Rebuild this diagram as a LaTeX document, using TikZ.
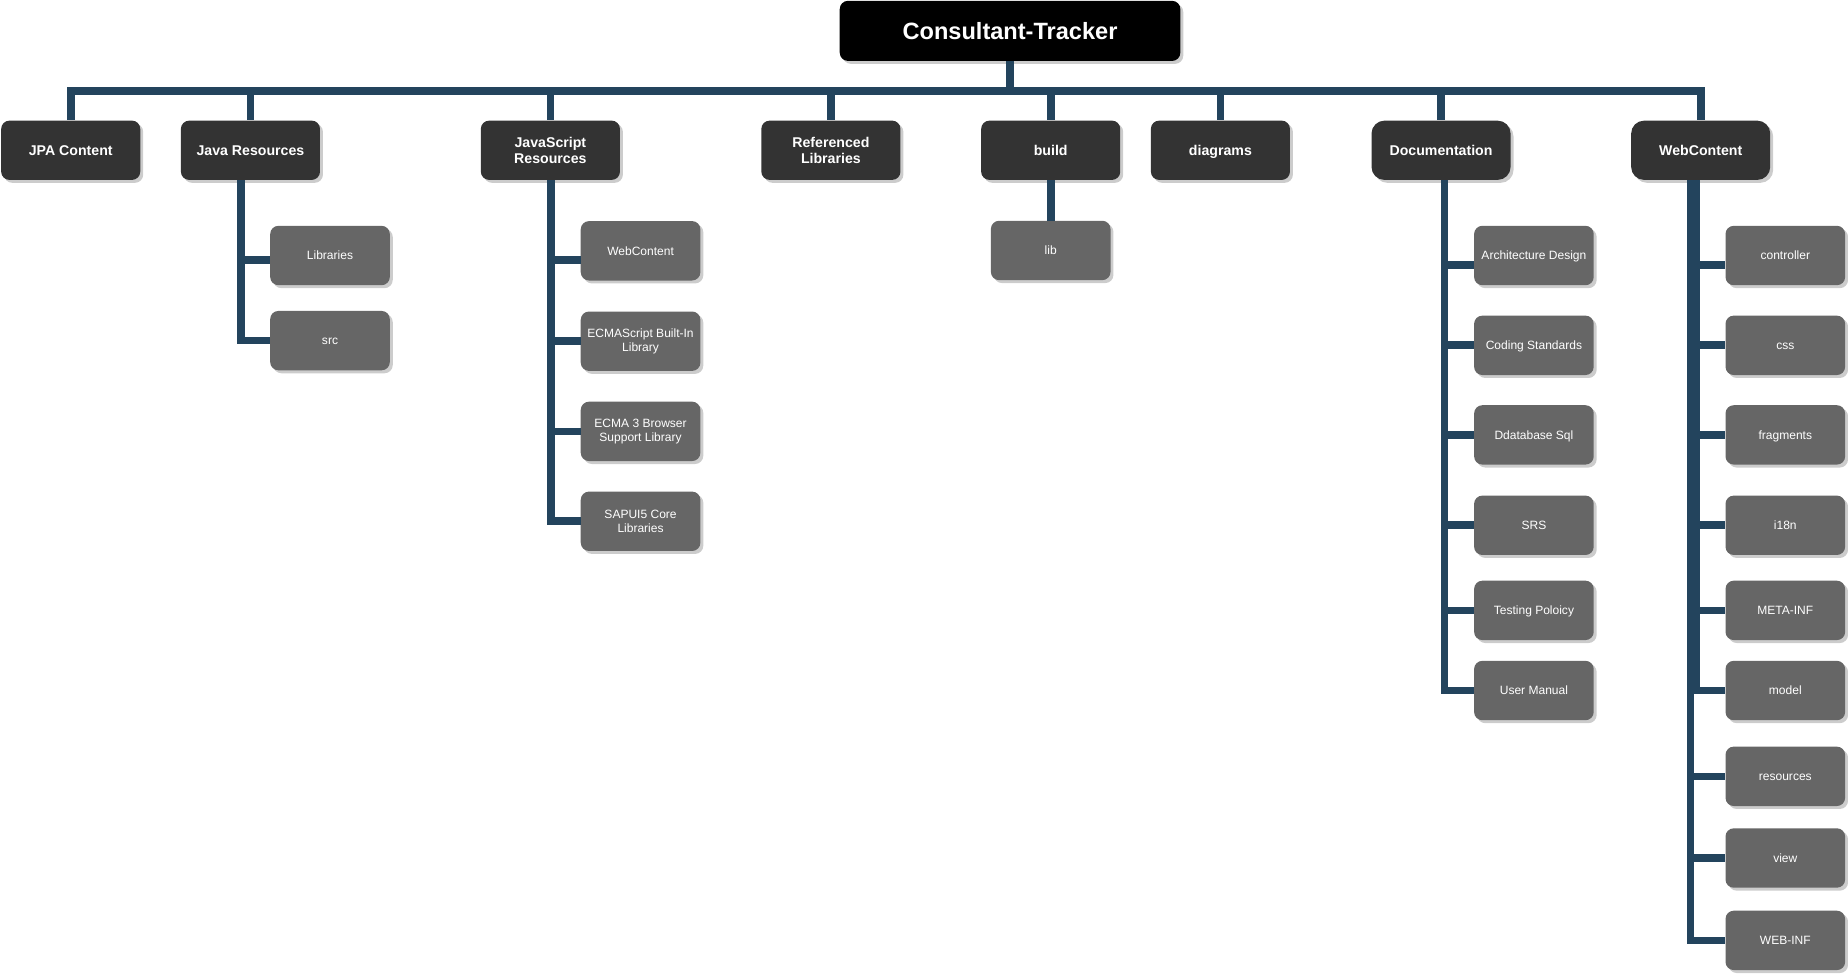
\documentclass[tikz,border=0pt]{standalone}
\usepackage{fontspec}
\setmainfont{Liberation Sans}
\usetikzlibrary{shadows}
\definecolor{edgec}{HTML}{23445D}
\definecolor{parentc}{HTML}{333333}
\definecolor{childc}{HTML}{666666}
\begin{document}
\begin{tikzpicture}[x=1pt,y=-1pt,
  boxbase/.style={rounded corners=7pt, text=white, align=center, inner sep=0pt,
    drop shadow={shadow xshift=2.5pt,shadow yshift=-2.5pt,fill=black!20,opacity=1}},
  rootbox/.style={boxbase, fill=black, minimum width=289pt, minimum height=51pt,
    font=\fontsize{20}{24}\selectfont\bfseries, text height=14.3pt, text depth=0pt},
  parentbox/.style={boxbase, fill=parentc, minimum width=118pt, minimum height=50.3pt,
    font=\fontsize{12}{13.5}\selectfont\bfseries, text height=8.6pt, text depth=0pt},
  roundparent/.style={parentbox, rounded corners=11pt},
  childbox/.style={boxbase, fill=childc, minimum width=101.5pt, minimum height=50.4pt,
    font=\fontsize{10.2}{12}\selectfont, text height=7.3pt, text depth=0pt},
  multi/.style={text height={}, text depth={}},
  conn/.style={draw=edgec, line width=6.5pt, line join=miter}
]
\useasboundingbox (0,0) rectangle (1568,827.27);

% root
\node[rootbox] (root) at (857,26.2) {Consultant-Tracker};

% parents
\node[parentbox] (jpa) at (60,127.5) {JPA Content};
\node[parentbox] (jr) at (212.5,127.5) {Java Resources};
\node[parentbox, multi] (js) at (467,127.5) {JavaScript\\Resources};
\node[parentbox, multi] (rl) at (705,127.5) {Referenced\\Libraries};
\node[parentbox] (build) at (891.5,127.5) {build};
\node[parentbox] (diag) at (1035.5,127.5) {diagrams};
\node[roundparent] (doc) at (1222.7,127.5) {Documentation};
\node[roundparent] (wc) at (1443,127.5) {WebContent};

% Java Resources children
\node[childbox] (jrlib) at (280,216.8) {Libraries};
\node[childbox] (jrsrc) at (280,289) {src};

% JavaScript Resources children
\node[childbox] (jswc) at (543.5,212.8) {WebContent};
\node[childbox, multi] (jsecma) at (543.5,289.5) {ECMAScript Built-In\\Library};
\node[childbox, multi] (jsbrowser) at (543.5,366) {ECMA 3 Browser\\Support Library};
\node[childbox, multi] (jssap) at (543.5,442.3) {SAPUI5 Core\\Libraries};

% build child
\node[childbox] (lib) at (891.5,212.5) {lib};

% Documentation children
\node[childbox] (arch) at (1301.5,216.8) {Architecture Design};
\node[childbox] (coding) at (1301.5,293) {Coding Standards};
\node[childbox] (dbsql) at (1301.5,369) {Ddatabase Sql};
\node[childbox] (srs) at (1301.5,445.7) {SRS};
\node[childbox] (testing) at (1301.5,517.9) {Testing Poloicy};
\node[childbox] (manual) at (1301.5,585.9) {User Manual};

% WebContent children
\node[childbox] (ctrl) at (1514.8,216.8) {controller};
\node[childbox] (css) at (1514.8,293) {css};
\node[childbox] (frag) at (1514.8,369) {fragments};
\node[childbox] (i18n) at (1514.8,445.7) {i18n};
\node[childbox] (meta) at (1514.8,517.9) {META-INF};
\node[childbox] (model) at (1514.8,585.9) {model};
\node[childbox] (res) at (1514.8,658.7) {resources};
\node[childbox] (view) at (1514.8,728) {view};
\node[childbox] (webinf) at (1514.8,797.9) {WEB-INF};

% root to parents
\foreach \p in {jpa,jr,js,rl,build,diag,doc,wc}{
  \draw[conn] (root.south) -- ++(0,25.5) -| (\p.north);
}

% Java Resources
\draw[conn] ([xshift=-8pt]jr.south) |- ([yshift=-4pt]jrlib.west);
\draw[conn] ([xshift=-8pt]jr.south) |- (jrsrc.west);

% JavaScript Resources
\draw[conn] ([xshift=0.5pt]js.south) |- ([yshift=-8pt]jswc.west);
\foreach \c in {jsecma,jsbrowser,jssap}{
  \draw[conn] ([xshift=0.5pt]js.south) |- (\c.west);
}

% build
\draw[conn] (build.south) -- (lib.north);

% Documentation
\draw[conn] ([xshift=2.8pt]doc.south) |- ([yshift=-8pt]arch.west);
\foreach \c in {coding,dbsql,srs,testing,manual}{
  \draw[conn] ([xshift=2.8pt]doc.south) |- (\c.west);
}

% WebContent
\draw[conn] ([xshift=-4pt]wc.south) |- ([yshift=-8pt]ctrl.west);
\foreach \c in {css,frag,i18n,meta,model}{
  \draw[conn] ([xshift=-4pt]wc.south) |- (\c.west);
}
\foreach \c in {res,view,webinf}{
  \draw[conn] ([xshift=-8.7pt]wc.south) |- (\c.west);
}
\end{tikzpicture}
\end{document}
